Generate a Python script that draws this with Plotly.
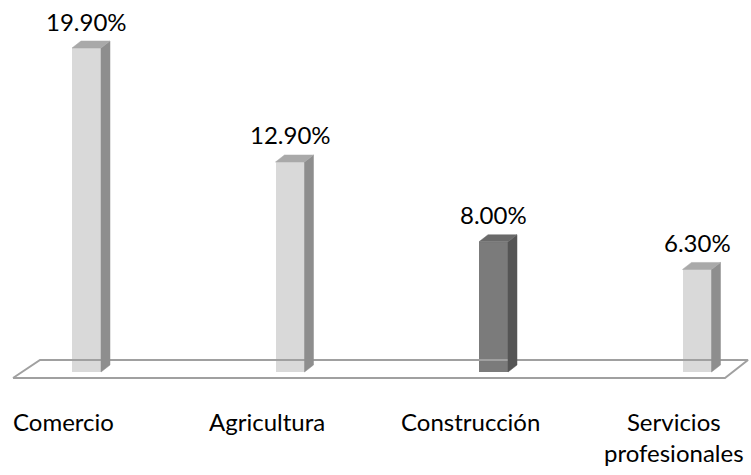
import plotly.graph_objects as go

categories = ["Comercio", "Agricultura", "Construcción", "Servicios<br>profesionales"]
values = [19.9, 12.9, 8.0, 6.3]
labels = ["19.90%", "12.90%", "8.00%", "6.30%"]
highlight = [False, False, True, False]

W, H = 751, 475
px_per_cat = 203.5
px_per_unit = 16.28
x0 = -86.5 / px_per_cat
x1 = x0 + W / px_per_cat
y1 = 372 / px_per_unit
y0 = -(H - 372) / px_per_unit

bar_w = 29 / px_per_cat
dx = 9 / px_per_cat
dy = 7 / px_per_unit

light = dict(front="#d9d9d9", side="#8e8e8e", top="#a9a9a9")
dark = dict(front="#7b7b7b", side="#555555", top="#6a6a6a")

fig = go.Figure()

# floor (drawn behind bars)
n = len(categories)
fl_back_y = -(360 - 372) / px_per_unit
fl_front_y = -(378 - 372) / px_per_unit
bl = x0 + 40 / px_per_cat
br = x0 + 748 / px_per_cat
fl = x0 + 13 / px_per_cat
fr = x0 + 725 / px_per_cat
fig.add_trace(go.Scatter(x=[fl, bl, br, fr, fl], y=[fl_front_y, fl_back_y, fl_back_y, fl_front_y, fl_front_y],
                         mode="lines", line=dict(color="#a0a0a0", width=2), hoverinfo="skip", showlegend=False))

for i, (v, hl) in enumerate(zip(values, highlight)):
    c = dark if hl else light
    xl = i - bar_w / 2
    xr = i + bar_w / 2
    # side face
    fig.add_trace(go.Scatter(x=[xr, xr + dx, xr + dx, xr, xr], y=[0, dy, v + dy, v, 0],
                             fill="toself", fillcolor=c["side"], mode="lines",
                             line=dict(color=c["side"], width=0.5), hoverinfo="skip", showlegend=False))
    # top face
    fig.add_trace(go.Scatter(x=[xl, xl + dx, xr + dx, xr, xl], y=[v, v + dy, v + dy, v, v],
                             fill="toself", fillcolor=c["top"], mode="lines",
                             line=dict(color=c["top"], width=0.5), hoverinfo="skip", showlegend=False))

fig.add_trace(go.Bar(x=list(range(n)), y=values, width=bar_w,
                     marker=dict(color=[dark["front"] if h else light["front"] for h in highlight], line=dict(width=0)),
                     hoverinfo="skip", showlegend=False))

for i, (v, t) in enumerate(zip(values, labels)):
    fig.add_annotation(x=i, y=v, text=t, showarrow=False, yanchor="middle", yshift=27,
                       font=dict(family="Lato", size=24, color="#000000"))

for i, cat in enumerate(categories):
    fig.add_annotation(x=i, y=-(405 - 372) / px_per_unit, text=cat, showarrow=False, yanchor="top",
                       xshift=-23, align="center", font=dict(family="Lato", size=24, color="#000000"))

fig.update_layout(
    width=W, height=H, margin=dict(l=0, r=0, t=0, b=0),
    paper_bgcolor="white", plot_bgcolor="white",
    xaxis=dict(range=[x0, x1], visible=False, fixedrange=True),
    yaxis=dict(range=[y0, y1], visible=False, fixedrange=True),
    bargap=0,
)

fig.write_html("out.html")
